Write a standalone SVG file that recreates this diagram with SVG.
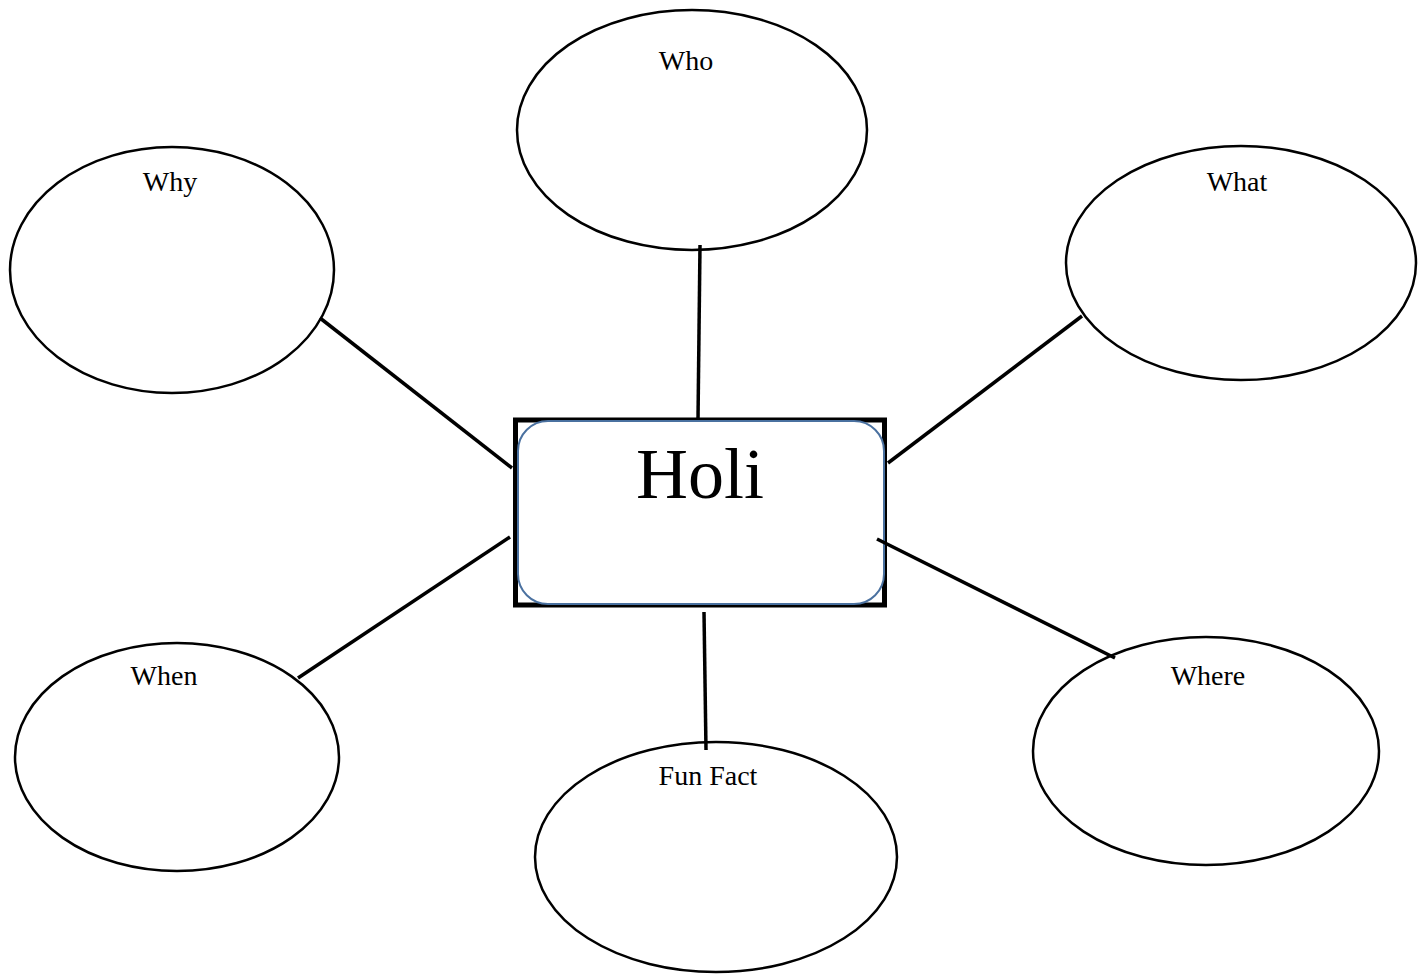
<svg xmlns="http://www.w3.org/2000/svg" width="1426" height="975" viewBox="0 0 1426 975">
<style>
.bubble{fill:#fff;stroke:#000;stroke-width:2.5}
.lbl{font-family:"Liberation Serif","DejaVu Serif",serif;font-size:28px;fill:#000;text-anchor:middle}
.conn line{stroke:#000;stroke-width:3.5}
</style>
<rect width="1426" height="975" fill="#fff"/>
<g id="who"><ellipse class="bubble" cx="692" cy="130" rx="175" ry="120"/><text class="lbl" x="686" y="70">Who</text></g>
<g id="why"><ellipse class="bubble" cx="172" cy="270" rx="162" ry="123"/><text class="lbl" x="170" y="191">Why</text></g>
<g id="what"><ellipse class="bubble" cx="1241" cy="263" rx="175" ry="117"/><text class="lbl" x="1237" y="191">What</text></g>
<g id="when"><ellipse class="bubble" cx="177" cy="757" rx="162" ry="114"/><text class="lbl" x="164" y="685">When</text></g>
<g id="funfact"><ellipse class="bubble" cx="716" cy="857" rx="181" ry="115"/><text class="lbl" x="708" y="785">Fun Fact</text></g>
<g id="where"><ellipse class="bubble" cx="1206" cy="751" rx="173" ry="114"/><text class="lbl" x="1208" y="685">Where</text></g>
<g id="holi">
<rect x="515.5" y="420" width="369" height="185" fill="#fff" stroke="#000" stroke-width="5"/>
<rect x="518" y="421" width="366" height="183" rx="30" fill="#fff" stroke="#4a71a0" stroke-width="2"/>
<text x="700" y="498" font-family="'Liberation Serif','DejaVu Serif',serif" font-size="72" text-anchor="middle" fill="#000">Holi</text>
</g>
<g class="conn" id="connectors">
<line x1="700" y1="245" x2="698" y2="420"/>
<line x1="320" y1="318" x2="512" y2="468"/>
<line x1="1082" y1="316" x2="888" y2="463"/>
<line x1="298" y1="678" x2="510" y2="537"/>
<line x1="877" y1="539" x2="1115" y2="658"/>
<line x1="704" y1="612" x2="706" y2="750"/>
</g>
</svg>
